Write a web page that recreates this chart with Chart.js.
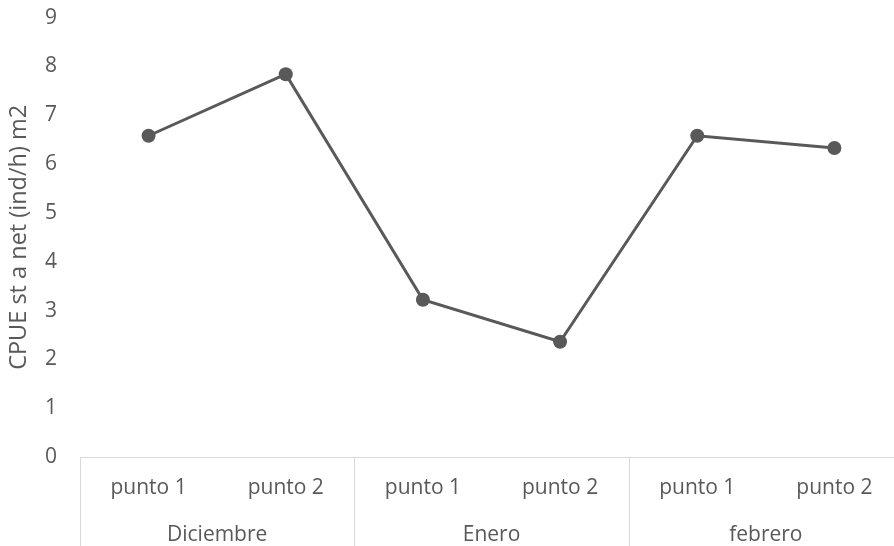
<!DOCTYPE html>
<html>
<head>
<meta charset="utf-8">
<script src="https://cdn.jsdelivr.net/npm/chart.js@4/dist/chart.umd.min.js"></script>
<style>
  html, body { margin: 0; padding: 0; overflow: hidden; background: #fff; }
  #wrap { width: 910px; height: 564px; position: relative; top: -18px; }
</style>
</head>
<body>
<div id="wrap"><canvas id="cpueChart"></canvas></div>
<script>
const points = ["punto 1", "punto 2", "punto 1", "punto 2", "punto 1", "punto 2"];
const months = ["Diciembre", "Enero", "febrero"];
const cpue = [6.58, 7.84, 3.22, 2.36, 6.58, 6.33];
const yTitle = "CPUE st a net (ind/h) m2";

const textColor = "#595959";
const lineColor = "#d9d9d9";
const fontFamily = "'Open Sans', sans-serif";

// vertical separators between month groups, taken from the x scale
const groupLines = {
    id: "groupLines",
    afterDraw(chart) {
        let x = chart.scales.x;
        let ctx = chart.ctx;
        let perGroup = points.length / months.length;
        ctx.save();
        ctx.strokeStyle = lineColor;
        ctx.lineWidth = 1;
        for (let k = 0; k <= months.length; k++) {
            let i = k * perGroup;
            let px;
            if (i === 0) px = x.left;
            else if (i === points.length) px = x.right;
            else px = (x.getPixelForValue(i - 1) + x.getPixelForValue(i)) / 2;
            px = Math.round(px) + 0.5;
            ctx.beginPath();
            ctx.moveTo(px, x.top);
            ctx.lineTo(px, chart.height);
            ctx.stroke();
        }
        ctx.restore();
    }
};

new Chart(document.getElementById("cpueChart").getContext("2d"), {
    type: "line",
    data: {
        labels: points,
        datasets: [{
            data: cpue,
            borderColor: "#595959",
            backgroundColor: "#595959",
            borderWidth: 3,
            pointRadius: 7,
            pointBorderWidth: 0,
            pointHoverRadius: 7,
            tension: 0,
            xAxisID: "x"
        }]
    },
    options: {
        responsive: true,
        maintainAspectRatio: false,
        animation: false,
        layout: { padding: 0 },
        plugins: {
            legend: { display: false },
            tooltip: { enabled: false }
        },
        scales: {
            x: {
                type: "category",
                position: "bottom",
                offset: true,
                grid: { display: false, drawTicks: false },
                border: { display: true, color: lineColor, width: 1 },
                ticks: { color: textColor, padding: 18, font: { family: fontFamily, size: 21 }, maxRotation: 0, autoSkip: false },
                afterFit(scale) { scale.height = 47; }
            },
            x2: {
                type: "category",
                position: "bottom",
                labels: months,
                offset: true,
                grid: { display: false, drawTicks: false },
                border: { display: false },
                ticks: { color: textColor, padding: 18, font: { family: fontFamily, size: 21 }, maxRotation: 0, autoSkip: false },
                afterFit(scale) { scale.height = 42; }
            },
            y: {
                min: 0,
                max: 9,
                grid: { display: false, drawTicks: false },
                border: { display: false },
                ticks: { stepSize: 1, color: textColor, padding: 23, font: { family: fontFamily, size: 21 } },
                title: {
                    display: true,
                    text: yTitle,
                    color: textColor,
                    font: { family: fontFamily, size: 23.5 },
                    padding: { top: 5, bottom: 0 }
                },
                afterFit(scale) { scale.width = 80; }
            }
        }
    },
    plugins: [groupLines]
});
</script>
</body>
</html>
